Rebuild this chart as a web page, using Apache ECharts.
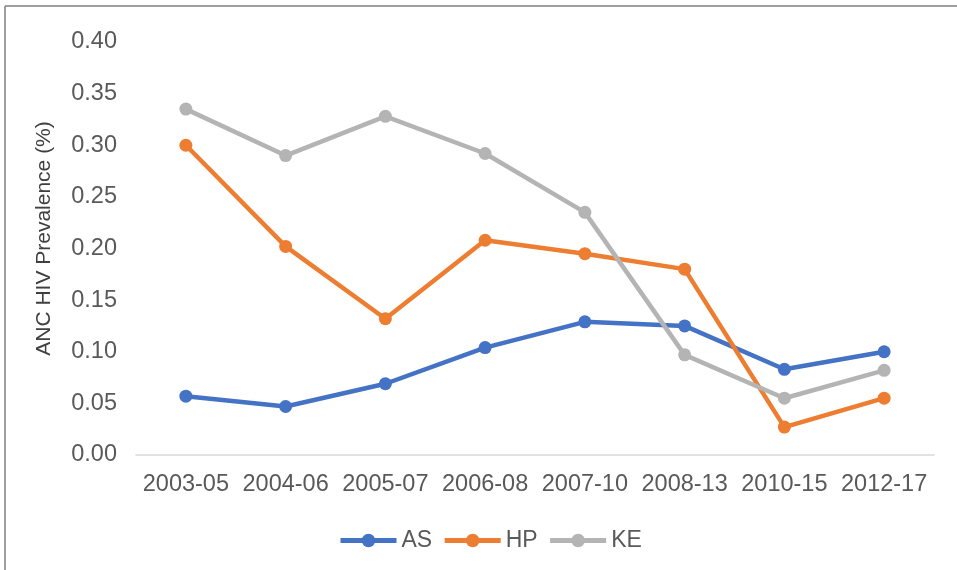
<!DOCTYPE html>
<html>
<head>
<meta charset="utf-8">
<script src="https://cdn.jsdelivr.net/npm/echarts@6/dist/echarts.min.js"></script>
<style>
html, body { margin: 0; padding: 0; background: #fff; }
#chart { width: 957px; height: 570px; }
</style>
</head>
<body>
<div id="chart"></div>
<script>
var categories = ['2003-05', '2004-06', '2005-07', '2006-08', '2007-10', '2008-13', '2010-15', '2012-17'];
var asValues = [0.057, 0.047, 0.069, 0.104, 0.129, 0.125, 0.083, 0.100];
var hpValues = [0.300, 0.202, 0.132, 0.208, 0.195, 0.180, 0.027, 0.055];
var keValues = [0.335, 0.290, 0.328, 0.292, 0.235, 0.097, 0.055, 0.082];

var myChart = echarts.init(document.getElementById('chart'));

function lineSeries(name, data, color) {
	return {
		name: name,
		type: 'line',
		data: data,
		symbol: 'circle',
		symbolSize: 13,
		lineStyle: { width: 4.5, color: color },
		itemStyle: { color: color },
		emphasis: { disabled: true }
	};
}

var option = {
	animation: false,
	textStyle: { fontFamily: 'Liberation Sans' },
	graphic: [
		{ type: 'line', shape: { x1: 5, y1: 6, x2: 957, y2: 6 }, style: { stroke: '#7f7f7f', lineWidth: 1.5 } },
		{ type: 'line', shape: { x1: 5, y1: 6, x2: 5, y2: 570 }, style: { stroke: '#7f7f7f', lineWidth: 1.5 } }
	],
	grid: { left: 136, right: 23, top: 42, bottom: 115 },
	legend: {
		top: 529,
		left: 338,
		padding: 0,
		itemWidth: 56,
		itemHeight: 17,
		itemGap: 10,
		lineStyle: { width: 5 },
		textStyle: { fontSize: 23, color: '#595959' },
		data: ['AS', 'HP', 'KE']
	},
	xAxis: {
		type: 'category',
		data: categories,
		axisLine: { lineStyle: { color: '#d9d9d9', width: 1.5 } },
		axisTick: { show: false },
		axisLabel: { fontSize: 23.5, color: '#595959', margin: 18, interval: 0 }
	},
	yAxis: {
		type: 'value',
		min: 0,
		max: 0.40,
		interval: 0.05,
		name: 'ANC HIV Prevalence (%)',
		nameLocation: 'middle',
		nameGap: 81,
		nameTextStyle: { fontSize: 21, color: '#404040', padding: [0, 0, 0, 20] },
		axisLine: { show: false },
		axisTick: { show: false },
		splitLine: { show: false },
		axisLabel: {
			fontSize: 23.5,
			color: '#595959',
			margin: 19,
			formatter: function (v) { return v.toFixed(2); }
		}
	},
	series: [
		lineSeries('AS', asValues, '#4472c4'),
		lineSeries('HP', hpValues, '#ed7d31'),
		lineSeries('KE', keValues, '#b4b4b4')
	]
};

myChart.setOption(option);
</script>
</body>
</html>
